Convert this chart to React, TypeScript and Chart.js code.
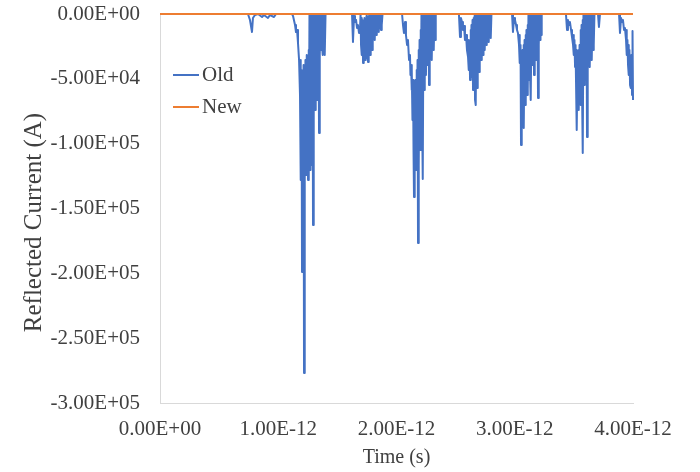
import { useEffect, useRef } from "react";
import { Chart, registerables } from "chart.js";

Chart.register(...registerables);

// Time in picoseconds, reflected current in kiloamperes.
// Each pulse group is a pair of time / current arrays.
const pulse1TimePs = [0, 0.744, 0.761, 0.778, 0.786, 0.803, 0.829, 0.863, 0.879, 0.913, 0.93, 0.964, 0.981];
const pulse1CurrentKA = [0, 0, -4.6, -13.9, -3.1, -0.8, 0, -2.3, -0.8, -3.1, -0.8, -2.3, 0];

const pulse2TimePs = [
  1.116, 1.125, 1.142, 1.15, 1.159, 1.167, 1.176, 1.184, 1.188, 1.192, 1.197, 1.201, 1.205, 1.209, 1.214,
  1.218, 1.222, 1.226, 1.23, 1.235, 1.239, 1.243, 1.247, 1.252, 1.256, 1.26, 1.264, 1.269, 1.273, 1.277,
  1.281, 1.285, 1.29, 1.294, 1.298, 1.302, 1.306, 1.311, 1.315, 1.319, 1.323, 1.328, 1.332, 1.336, 1.34,
  1.345, 1.349, 1.353, 1.357, 1.362, 1.366, 1.37, 1.374, 1.378, 1.383, 1.387, 1.391, 1.395, 1.4, 1.404,
];
const pulse2CurrentKA = [
  0, -1.5, -8.5, -13.9, -12.3, -22.4, -35.5, -62.5, -35.5, -128.0, -43.2, -198.9, -50.9, -152.7, -39.3,
  -276.8, -43.2, -128.0, -35.5, -124.1, -31.6, -120.3, -35.5, -128.0, -27.8, -126.4, 0, -120.3, 0, -116.4,
  0, -81.7, 0, -162.7, 0, -58.6, 0, -74.0, 0, -50.9, 0, -66.3, 0, -35.5, 0,
  -91.7, 0, -31.6, 0, -27.8, 0, -23.9, 0, -31.6, 0, -26.2, 0, -31.6, 0, 0,
];

const pulse3TimePs = [
  1.607, 1.624, 1.632, 1.641, 1.649, 1.658, 1.666, 1.674, 1.683, 1.691, 1.696, 1.7, 1.704, 1.708,
  1.712, 1.717, 1.721, 1.725, 1.729, 1.734, 1.738, 1.742, 1.746, 1.75, 1.755, 1.759, 1.763, 1.767,
  1.772, 1.776, 1.78, 1.784, 1.789, 1.793, 1.797, 1.801, 1.806, 1.81, 1.814, 1.818, 1.822, 1.827,
  1.831, 1.835, 1.839, 1.844, 1.848, 1.852, 1.856, 1.86, 1.865, 1.869, 1.873, 1.877, 1.882, 1.886,
];
const pulse3CurrentKA = [
  0, 0, -21.6, -1.5, -6.2, -4.6, -10.8, -8.5, -14.6, -12.3, 0, -23.9, -3.1, -31.6,
  -4.6, -37.8, -6.2, -27.8, -3.1, -35.5, -4.6, -26.2, -1.5, -33.9, -3.1, -37.0, -1.5, -29.3,
  0, -31.6, 0, -23.9, 0, -27.8, 0, -21.6, 0, -16.2, 0, -20.0, 0, -12.3,
  0, -16.2, 0, -12.3, 0, -13.9, 0, -10.8, 0, -12.3, 0, -8.5, 0, 0,
];

const pulse4TimePs = [
  2.03, 2.047, 2.055, 2.063, 2.072, 2.08, 2.089, 2.097, 2.106, 2.114, 2.118, 2.123, 2.127, 2.131, 2.135,
  2.14, 2.144, 2.148, 2.152, 2.156, 2.161, 2.165, 2.169, 2.173, 2.178, 2.182, 2.186, 2.19, 2.195, 2.199,
  2.203, 2.207, 2.211, 2.216, 2.22, 2.224, 2.228, 2.233, 2.237, 2.241, 2.245, 2.249, 2.254, 2.258, 2.262,
  2.266, 2.271, 2.275, 2.279, 2.283, 2.288, 2.292, 2.296, 2.3, 2.304, 2.309, 2.313, 2.317, 2.321, 2.326,
  2.33, 2.334,
];
const pulse4CurrentKA = [
  0, 0, -8.5, -14.6, -6.2, -16.2, -23.9, -20.0, -35.5, -31.6, -47.0, -39.3, -58.6, -43.2, -81.7,
  -50.9, -104.9, -141.1, -58.6, -116.4, -50.9, -120.3, -43.2, -112.6, -35.5, -176.6, -27.8, -116.4, -20.0, -104.9,
  -12.3, -89.4, 0, -74.0, 0, -127.2, 0, -58.6, 0, -43.2, 0, -47.0, 0, -31.6, 0,
  -39.3, 0, -54.7, 0, -31.6, 0, -27.8, 0, -35.5, 0, -23.9, 0, -27.8, 0, -20.0,
  0, 0,
];

const pulse5TimePs = [
  2.512, 2.528, 2.537, 2.545, 2.554, 2.562, 2.571, 2.579, 2.588, 2.596, 2.605, 2.609, 2.613, 2.617, 2.622,
  2.626, 2.63, 2.634, 2.638, 2.643, 2.647, 2.651, 2.655, 2.66, 2.664, 2.668, 2.672, 2.676, 2.681, 2.685,
  2.689, 2.693, 2.698, 2.702, 2.706, 2.71, 2.715, 2.719, 2.723, 2.727, 2.732, 2.736, 2.74, 2.744, 2.748,
  2.753, 2.757, 2.761, 2.765, 2.77, 2.774, 2.778, 2.782, 2.786, 2.791, 2.795, 2.799, 2.803, 2.808,
];
const pulse5CurrentKA = [
  0, 0, -17.7, -3.1, -6.2, -12.3, -9.3, -20.0, -16.2, -27.8, -33.2, -20.0, -43.2, -23.9, -50.9,
  -12.3, -47.0, -8.5, -48.6, -4.6, -58.6, -3.1, -54.7, -1.5, -66.3, 0, -70.2, 0, -57.1, 0,
  -39.3, 0, -44.7, 0, -31.6, 0, -35.5, 0, -27.8, 0, -31.6, 0, -23.9, 0, -27.8,
  0, -20.0, 0, -23.9, 0, -18.5, 0, -21.6, 0, -16.2, 0, -18.5, 0, 0,
];

const pulse6TimePs = [
  2.96, 2.977, 2.985, 2.994, 3.002, 3.011, 3.019, 3.027, 3.036, 3.04, 3.044, 3.049, 3.053, 3.057, 3.061,
  3.066, 3.07, 3.074, 3.078, 3.083, 3.087, 3.091, 3.095, 3.099, 3.104, 3.108, 3.112, 3.116, 3.121, 3.125,
  3.129, 3.133, 3.137, 3.142, 3.146, 3.15, 3.154, 3.159, 3.163, 3.167, 3.171, 3.175, 3.18, 3.184, 3.188,
  3.192, 3.197, 3.201, 3.205, 3.209, 3.214, 3.218, 3.222, 3.226, 3.23,
];
const pulse6CurrentKA = [
  0, 0, -13.9, -3.1, -4.6, -8.5, -12.3, -14.6, -23.9, -16.2, -37.8, -23.9, -101.0, -31.6, -74.0,
  -27.8, -81.7, -23.9, -87.9, -20.0, -70.2, -16.2, -66.3, -12.3, -62.5, -8.5, -58.6, 0, -50.9, 0,
  -43.2, 0, -66.3, 0, -39.3, 0, -35.5, 0, -47.0, 0, -31.6, 0, -35.5, 0, -27.8,
  0, -64.8, 0, -23.9, 0, -20.0, 0, -16.2, 0, 0,
];

const pulse7TimePs = [
  3.416, 3.433, 3.442, 3.45, 3.459, 3.467, 3.476, 3.484, 3.493, 3.497, 3.501, 3.505, 3.51, 3.514, 3.518,
  3.522, 3.526, 3.531, 3.535, 3.539, 3.543, 3.548, 3.552, 3.556, 3.56, 3.565, 3.569, 3.573, 3.577, 3.581,
  3.586, 3.59, 3.594, 3.598, 3.602, 3.607, 3.611, 3.615, 3.619, 3.624, 3.628, 3.632, 3.636, 3.641, 3.645,
  3.649, 3.653, 3.658, 3.662, 3.666, 3.67, 3.674, 3.679, 3.704, 3.712, 3.721,
];
const pulse7CurrentKA = [
  0, 0, -12.3, -4.6, -8.5, -6.2, -12.3, -17.7, -23.9, -16.2, -31.6, -20.0, -40.9, -23.9, -50.9,
  -27.8, -89.4, -31.6, -66.3, -27.8, -74.0, -23.9, -62.5, -12.3, -70.2, -8.5, -58.6, -4.6, -107.2, 0,
  -54.7, 0, -47.0, 0, -43.2, 0, -94.8, 0, -39.3, 0, -35.5, 0, -40.9, 0, -31.6,
  0, -35.5, 0, -27.8, 0, -23.9, 0, 0, 0, -10.0, 0,
];

const pulse8TimePs = [
  3.865, 3.882, 3.89, 3.899, 3.907, 3.915, 3.924, 3.932, 3.941, 3.945, 3.949, 3.953,
  3.958, 3.962, 3.966, 3.97, 3.975, 3.979, 3.983, 3.987, 3.992, 3.996, 4.0,
];
const pulse8CurrentKA = [
  0, 0, -14.6, -3.1, -6.2, -4.6, -12.3, -10.8, -20.0, -12.3, -31.6, -20.0,
  -39.3, -23.9, -47.0, -27.8, -54.7, -35.5, -57.1, -31.6, -62.5, -13.1, -66.3,
];

const newTimePs = [0, 4];
const newCurrentKA = [0, 0];

const seriesLabels = ["Old", "New"];
const seriesColors = ["#4472C4", "#ED7D31"];

const xTicksPs = [0, 1, 2, 3, 4];
const yTicksKA = [0, -50, -100, -150, -200, -250, -300];

const xTitle = "Time (s)";
const yTitle = "Reflected Current (A)";

const oldPulses: [number[], number[]][] = [
  [pulse1TimePs, pulse1CurrentKA],
  [pulse2TimePs, pulse2CurrentKA],
  [pulse3TimePs, pulse3CurrentKA],
  [pulse4TimePs, pulse4CurrentKA],
  [pulse5TimePs, pulse5CurrentKA],
  [pulse6TimePs, pulse6CurrentKA],
  [pulse7TimePs, pulse7CurrentKA],
  [pulse8TimePs, pulse8CurrentKA],
];

const FONT = '"Liberation Serif", "Times New Roman", serif';
const FONT_SIZE = 21;
const Y_TITLE_SIZE = 25;
const X_TITLE_SIZE = 20;
const TEXT_COLOR = "#404040";
const AXIS_COLOR = "#D9D9D9";

// Excel-style scientific notation, e.g. -5.00E+04, 1.00E-12
function sci(v: number): string {
  if (v === 0) return "0.00E+00";
  let e = Math.floor(Math.log10(Math.abs(v)));
  let m = v / Math.pow(10, e);
  if (Math.abs(Number(m.toFixed(2))) >= 10) {
    e += 1;
    m /= 10;
  }
  const sign = e < 0 ? "-" : "+";
  return m.toFixed(2) + "E" + sign + String(Math.abs(e)).padStart(2, "0");
}

// Legend inside the plot area and the rotated y-axis title
const annotations = {
  id: "annotations",
  afterDatasetsDraw(chart: any) {
    const { ctx, chartArea } = chart;
    ctx.save();
    ctx.font = `${FONT_SIZE}px ${FONT}`;
    ctx.textBaseline = "middle";
    ctx.textAlign = "left";
    chart.data.datasets.forEach((ds: any, i: number) => {
      const x = chartArea.left + 13;
      const y = chartArea.top + 61 + i * 32;
      ctx.strokeStyle = ds.borderColor;
      ctx.lineWidth = 2;
      ctx.beginPath();
      ctx.moveTo(x, y);
      ctx.lineTo(x + 26, y);
      ctx.stroke();
      ctx.fillStyle = TEXT_COLOR;
      ctx.fillText(ds.label, x + 29, y);
    });

    ctx.translate(34, (chartArea.top + chartArea.bottom) / 2 + 14);
    ctx.rotate(-Math.PI / 2);
    ctx.font = `${Y_TITLE_SIZE}px ${FONT}`;
    ctx.textAlign = "center";
    ctx.fillText(yTitle, 0, 0);
    ctx.restore();
  },
};

export default function App() {
  const canvasRef = useRef<HTMLCanvasElement | null>(null);

  useEffect(() => {
    if (!canvasRef.current) return;
    const oldPoints: { x: number; y: number }[] = [];
    oldPulses.forEach(([times, currents]) => {
      times.forEach((t, i) => oldPoints.push({ x: t, y: currents[i] }));
    });
    const newPoints = newTimePs.map((t, i) => ({ x: t, y: newCurrentKA[i] }));

    const chart = new Chart(canvasRef.current, {
      type: "line",
      data: {
        datasets: [
          {
            label: seriesLabels[0],
            data: oldPoints,
            borderColor: seriesColors[0],
            backgroundColor: seriesColors[0],
            borderWidth: 2,
            borderJoinStyle: "round",
            pointRadius: 0,
            tension: 0,
            order: 2,
            clip: false,
          },
          {
            label: seriesLabels[1],
            data: newPoints,
            borderColor: seriesColors[1],
            backgroundColor: seriesColors[1],
            borderWidth: 2,
            pointRadius: 0,
            tension: 0,
            order: 1,
            clip: false,
          },
        ],
      },
      options: {
        animation: false,
        responsive: true,
        maintainAspectRatio: false,
        layout: { padding: { left: 0, right: 67, top: 14, bottom: 0 } },
        plugins: { legend: { display: false }, tooltip: { enabled: false } },
        scales: {
          x: {
            type: "linear",
            min: xTicksPs[0],
            max: xTicksPs[xTicksPs.length - 1],
            afterFit: (s: any) => {
              s.height = 69;
              s.paddingLeft = 0;
              s.paddingRight = 0;
            },
            afterBuildTicks: (s: any) => {
              s.ticks = xTicksPs.map((v) => ({ value: v }));
            },
            grid: { display: false, drawTicks: false },
            border: { display: true, color: AXIS_COLOR, width: 1 },
            ticks: {
              padding: 14,
              maxRotation: 0,
              autoSkip: false,
              color: TEXT_COLOR,
              font: { family: FONT, size: FONT_SIZE },
              callback: (v: any) => sci(Number(v) * 1e-12),
            },
            title: {
              display: true,
              text: xTitle,
              color: TEXT_COLOR,
              font: { family: FONT, size: X_TITLE_SIZE },
              padding: { top: 0, bottom: 2 },
            },
          },
          y: {
            type: "linear",
            min: yTicksKA[yTicksKA.length - 1],
            max: yTicksKA[0],
            afterFit: (s: any) => {
              s.width = 160;
              s.paddingTop = 0;
              s.paddingBottom = 0;
            },
            afterBuildTicks: (s: any) => {
              s.ticks = yTicksKA.slice().reverse().map((v) => ({ value: v }));
            },
            grid: { display: false, drawTicks: false },
            border: { display: true, color: AXIS_COLOR, width: 1 },
            ticks: {
              padding: 20,
              autoSkip: false,
              color: TEXT_COLOR,
              font: { family: FONT, size: FONT_SIZE },
              callback: (v: any) => sci(Number(v) * 1e3),
            },
            title: { display: false },
          },
        },
      },
      plugins: [annotations],
    });

    return () => chart.destroy();
  }, []);

  return (
    <div style={{ position: "fixed", left: 0, top: 0, width: 700, height: 472, background: "#fff" }}>
      <canvas ref={canvasRef} />
    </div>
  );
}
